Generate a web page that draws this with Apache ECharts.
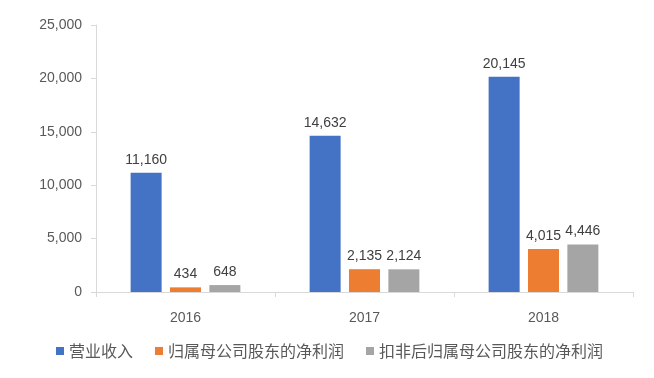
<!DOCTYPE html>
<html>
<head>
<meta charset="utf-8">
<script src="https://cdn.jsdelivr.net/npm/echarts@6/dist/echarts.min.js"></script>
<style>
  html, body { margin: 0; padding: 0; background: #fff; }
  #chart { width: 654px; height: 378px; }
</style>
</head>
<body>
<div id="chart"></div>
<script>
const years = ["2016", "2017", "2018"];
const revenue = [11160, 14632, 20145];
const netProfit = [434, 2135, 4015];
const netProfitExcl = [648, 2124, 4446];
const seriesNames = ["营业收入", "归属母公司股东的净利润", "扣非后归属母公司股东的净利润"];
const colors = ["#4472C4", "#ED7D31", "#A5A5A5"];

const chart = echarts.init(document.getElementById("chart"));
const labelFont = "'Liberation Sans', Arial, sans-serif";
const fmt = (v) => Number(v).toLocaleString("en-US");

const makeSeries = (name, data, color) => ({
  name,
  type: "bar",
  data,
  barWidth: 31,
  barGap: "27%",
  itemStyle: { color },
  label: {
    show: true,
    position: "top",
    distance: 6,
    fontFamily: labelFont,
    fontSize: 14,
    color: "#404040",
    formatter: (p) => fmt(p.value),
  },
});

chart.setOption({
  backgroundColor: "#FFFFFF",
  animation: false,
  grid: { left: 96, right: 21, top: 25, bottom: 86 },
  legend: {
    top: 343,
    left: 56,
    padding: 0,
    itemWidth: 8,
    itemHeight: 8,
    itemGap: 22,
    icon: "rect",
    textStyle: {
      fontFamily: "'Noto Sans CJK SC', sans-serif",
      fontSize: 16,
      color: "#595959",
    },
    data: seriesNames,
  },
  xAxis: {
    type: "category",
    data: years,
    axisLine: { lineStyle: { color: "#D9D9D9" } },
    axisTick: { show: true, length: 5, lineStyle: { color: "#D9D9D9" } },
    axisLabel: { margin: 19, fontFamily: labelFont, fontSize: 14, color: "#595959" },
  },
  yAxis: {
    type: "value",
    min: 0,
    max: 25000,
    interval: 5000,
    splitLine: { show: false },
    axisLine: { show: true, lineStyle: { color: "#D9D9D9" } },
    axisTick: { show: true, length: 5, lineStyle: { color: "#D9D9D9" } },
    axisLabel: {
      margin: 14,
      fontFamily: labelFont,
      fontSize: 14,
      color: "#595959",
      formatter: (v) => fmt(v),
    },
  },
  series: [
    makeSeries(seriesNames[0], revenue, colors[0]),
    makeSeries(seriesNames[1], netProfit, colors[1]),
    makeSeries(seriesNames[2], netProfitExcl, colors[2]),
  ],
});
</script>
</body>
</html>
